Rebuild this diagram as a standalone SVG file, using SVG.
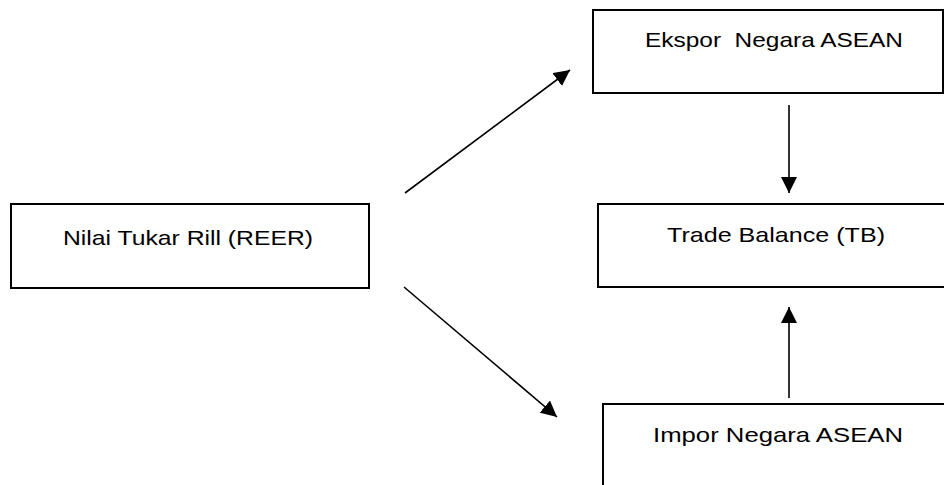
<svg xmlns="http://www.w3.org/2000/svg" width="944" height="485" viewBox="0 0 944 485">
<style>
.box{fill:#fff;stroke:#000;stroke-width:2}
.lbl{font-family:"Liberation Sans",Arial,sans-serif;font-size:21px;fill:#000;text-anchor:middle}
.con{stroke:#000;stroke-width:1.6;fill:none;marker-end:url(#ah)}
</style>
<defs>
<marker id="ah" viewBox="0 0 16 16" refX="16" refY="8" markerWidth="16" markerHeight="16" markerUnits="userSpaceOnUse" orient="auto">
<path d="M0,0 L16,8 L0,16 Z" fill="#000"/>
</marker>
</defs>
<rect width="944" height="485" fill="#fff"/>
<g id="node-reer">
<rect class="box" x="11" y="204" width="358" height="84"/>
<text class="lbl" x="188" y="245" textLength="250" lengthAdjust="spacingAndGlyphs">Nilai Tukar Rill (REER)</text>
</g>
<g id="node-ekspor">
<rect class="box" x="593" y="10" width="350" height="83"/>
<text class="lbl" x="774" y="47" textLength="258" lengthAdjust="spacingAndGlyphs" xml:space="preserve">Ekspor  Negara ASEAN</text>
</g>
<g id="node-tb">
<rect class="box" x="598" y="204" width="360" height="83"/>
<text class="lbl" x="776" y="242" textLength="218" lengthAdjust="spacingAndGlyphs">Trade Balance (TB)</text>
</g>
<g id="node-impor">
<rect class="box" x="603" y="404" width="360" height="100"/>
<text class="lbl" x="778" y="442" textLength="250" lengthAdjust="spacingAndGlyphs">Impor Negara ASEAN</text>
</g>
<g id="connectors">
<line class="con" x1="405" y1="193" x2="570" y2="70"/>
<line class="con" x1="404" y1="287" x2="557" y2="417"/>
<line class="con" x1="789" y1="105" x2="789" y2="193"/>
<line class="con" x1="789" y1="398" x2="789" y2="307"/>
</g>
</svg>
